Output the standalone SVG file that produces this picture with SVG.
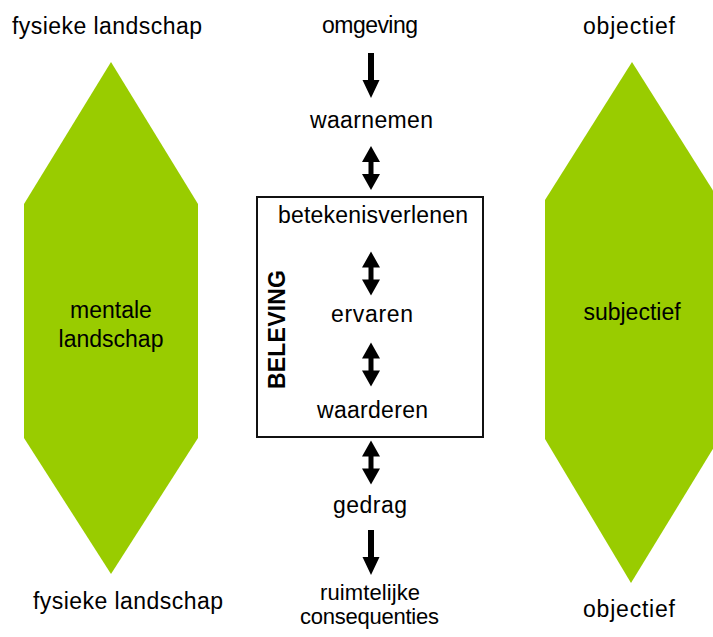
<svg xmlns="http://www.w3.org/2000/svg" xmlns:xlink="http://www.w3.org/1999/xlink" width="713" height="637" viewBox="0 0 713 637">
<style>
text{font-family:"Liberation Sans",Arial,sans-serif;font-size:23px;fill:#000}
.c{text-anchor:middle}
.sm{font-size:22px}
.hex{fill:#99CC00}
.box{fill:#fff;stroke:#111;stroke-width:2}
.arr{fill:#000}
</style>
<defs>
<path id="dbl" d="M0,-22 L9,-6 L2.5,-6 L2.5,6 L9,6 L0,22 L-9,6 L-2.5,6 L-2.5,-6 L-9,-6 Z"/>
<path id="down" d="M-3,0 L3,0 L3,27 L8.5,27 L0,45 L-8.5,27 L-3,27 Z"/>
</defs>
<rect width="713" height="637" fill="#fff"/>
<g id="left-hex">
<polygon class="hex" points="111,62 198,204 198,438 111,574 24,438 24,204"/>
<text class="c" x="111" y="318">mentale</text>
<text class="c" x="111" y="347">landschap</text>
</g>
<g id="right-hex">
<polygon class="hex" points="632,62 719,200 719,439 631,583 545,439 545,200"/>
<text class="c" x="632" y="320">subjectief</text>
</g>
<g id="labels">
<text x="12" y="34" textLength="190" lengthAdjust="spacing">fysieke landschap</text>
<text x="33" y="609" textLength="190" lengthAdjust="spacing">fysieke landschap</text>
<text x="583" y="34" textLength="92" lengthAdjust="spacing">objectief</text>
<text x="583" y="617" textLength="92" lengthAdjust="spacing">objectief</text>
</g>
<g id="beleving">
<rect class="box" x="257" y="197" width="226" height="240"/>
<text x="285" y="389" transform="rotate(-90 285 389)" font-weight="bold" textLength="119" lengthAdjust="spacing">BELEVING</text>
</g>
<g id="omgeving"><text x="322" y="33" textLength="96" lengthAdjust="spacing">omgeving</text></g>
<g id="waarnemen"><text x="310" y="128" textLength="123" lengthAdjust="spacing">waarnemen</text></g>
<g id="betekenisverlenen"><text x="278" y="223" textLength="190" lengthAdjust="spacing">betekenisverlenen</text></g>
<g id="ervaren"><text x="331" y="322" textLength="82" lengthAdjust="spacing">ervaren</text></g>
<g id="waarderen"><text x="317" y="418" textLength="111" lengthAdjust="spacing">waarderen</text></g>
<g id="gedrag"><text x="333" y="513" textLength="74" lengthAdjust="spacing">gedrag</text></g>
<g id="ruimtelijke-consequenties">
<text class="sm" x="320" y="600" textLength="100" lengthAdjust="spacing">ruimtelijke</text>
<text class="sm" x="300" y="624" textLength="139" lengthAdjust="spacing">consequenties</text>
</g>
<g id="connectors" class="arr">
<use xlink:href="#down" x="371" y="53"/>
<use xlink:href="#dbl" x="371" y="168"/>
<use xlink:href="#dbl" x="371" y="273.5"/>
<use xlink:href="#dbl" x="371" y="364.5"/>
<use xlink:href="#dbl" x="371" y="462.5"/>
<use xlink:href="#down" x="371" y="530"/>
</g>
</svg>
